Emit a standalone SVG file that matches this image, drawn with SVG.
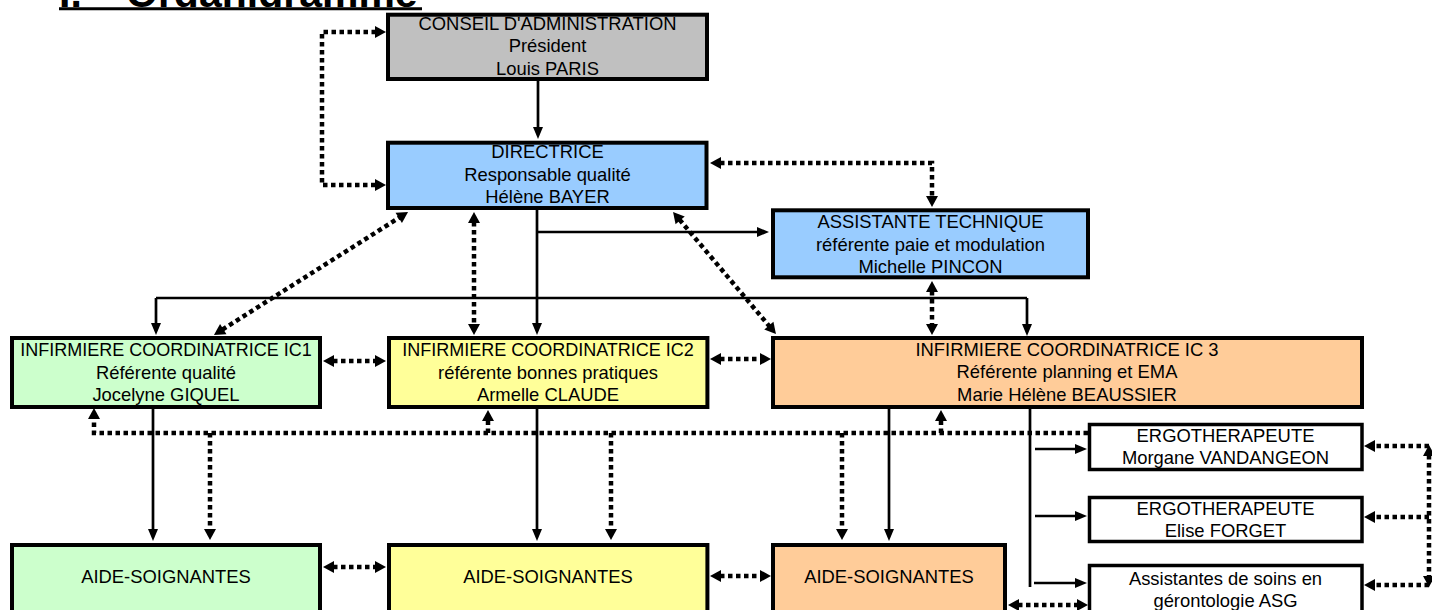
<svg xmlns="http://www.w3.org/2000/svg" width="1432" height="610" viewBox="0 0 1432 610">
<style>
.box{stroke:#000;stroke-width:4}
.thin{stroke:#000;stroke-width:3.5;fill:#fff}
.t{font-family:"Liberation Sans",Arial,sans-serif;font-size:18.4px;text-anchor:middle;fill:#000}
.n{font-size:18px}
.s{fill:none;stroke:#000;stroke-width:2.7}
.d{fill:none;stroke:#000;stroke-width:4.5;stroke-dasharray:4.5 3.5}
.title{font-family:"Liberation Sans",Arial,sans-serif;font-size:41px;font-weight:bold;fill:#000}
</style>
<defs>
<marker id="as" markerUnits="userSpaceOnUse" markerWidth="16" markerHeight="16" refX="0" refY="5" orient="auto-start-reverse" overflow="visible"><path d="M-1,0 L11,5 L-1,10 z" fill="#000"/></marker>
<marker id="ad" markerUnits="userSpaceOnUse" markerWidth="16" markerHeight="16" refX="0" refY="6" orient="auto-start-reverse" overflow="visible"><path d="M-1,0 L10,6 L-1,12 z" fill="#000"/></marker>
<clipPath id="tc"><rect x="0" y="0" width="1432" height="7"/></clipPath>
</defs>

<g id="title">
<text class="title" y="6.5" clip-path="url(#tc)"><tspan x="59">I.</tspan><tspan x="126">Organigramme</tspan></text>
<line x1="59" y1="8.7" x2="422" y2="8.7" stroke="#000" stroke-width="3"/>
</g>

<g id="connectors">
<path class="s" d="M538,81 V128" marker-end="url(#as)"/>
<path class="s" d="M537,210 V324" marker-end="url(#as)"/>
<path class="s" d="M537,232 H758" marker-end="url(#as)"/>
<path class="s" d="M156,298 H1027"/>
<path class="s" d="M156,298 V324" marker-end="url(#as)"/>
<path class="s" d="M1027,298 V325" marker-end="url(#as)"/>
<path class="s" d="M153,407 V530" marker-end="url(#as)"/>
<path class="s" d="M537,407 V530" marker-end="url(#as)"/>
<path class="s" d="M889,407 V530" marker-end="url(#as)"/>
<path class="s" d="M1030,407 V587"/>
<path class="s" d="M1035,449 H1076" marker-end="url(#as)"/>
<path class="s" d="M1035,516 H1076" marker-end="url(#as)"/>
<path class="s" d="M1034,583 H1076" marker-end="url(#as)"/>
<path class="d" d="M376,32 H322 V185 H376" marker-start="url(#ad)" marker-end="url(#ad)"/>
<path class="d" d="M720,163 H932 V197" marker-start="url(#ad)" marker-end="url(#ad)"/>
<path class="d" d="M222.4,329.6 L399.6,217.4" marker-start="url(#ad)" marker-end="url(#ad)"/>
<path class="d" d="M474,222 V325" marker-start="url(#ad)" marker-end="url(#ad)"/>
<path class="d" d="M679.5,219.6 L769.5,326.4" marker-start="url(#ad)" marker-end="url(#ad)"/>
<path class="d" d="M932,291 V325" marker-start="url(#ad)" marker-end="url(#ad)"/>
<path class="d" d="M333,361 H376" marker-start="url(#ad)" marker-end="url(#ad)"/>
<path class="d" d="M720,359 H761" marker-start="url(#ad)" marker-end="url(#ad)"/>
<path class="d" d="M1088,433 H94 V418" marker-end="url(#ad)"/>
<path class="d" d="M210,433 V530" marker-end="url(#ad)"/>
<path class="d" d="M488,433 V420" marker-end="url(#ad)"/>
<path class="d" d="M611,433 V530" marker-end="url(#ad)"/>
<path class="d" d="M842,433 V530" marker-end="url(#ad)"/>
<path class="d" d="M941,433 V420" marker-end="url(#ad)"/>
<path class="d" d="M333,567 H376" marker-start="url(#ad)" marker-end="url(#ad)"/>
<path class="d" d="M720,576 H761" marker-start="url(#ad)" marker-end="url(#ad)"/>
<path class="d" d="M1018,605 H1078" marker-start="url(#ad)" marker-end="url(#ad)"/>
<path class="d" d="M1429,455 V577" marker-start="url(#ad)" marker-end="url(#ad)"/>
<path class="d" d="M1429,446 H1374" marker-end="url(#ad)"/>
<path class="d" d="M1429,517 H1374" marker-end="url(#ad)"/>
<path class="d" d="M1429,585 H1374" marker-end="url(#ad)"/>
</g>

<g id="conseil">
<rect class="box" x="388" y="14.7" width="319" height="64.3" fill="#C0C0C0"/>
<text class="t" x="547.5" y="29.5">CONSEIL D'ADMINISTRATION</text>
<text class="t" x="547.5" y="52.2">Président</text>
<text class="t" x="547.5" y="75">Louis PARIS</text>
</g>

<g id="directrice">
<rect class="box" x="388" y="142.7" width="318.5" height="65.3" fill="#99CCFF"/>
<text class="t" x="547.5" y="158.3">DIRECTRICE</text>
<text class="t" x="547.5" y="181">Responsable qualité</text>
<text class="t" x="547.5" y="203.3">Hélène BAYER</text>
</g>

<g id="assistante">
<rect class="box" x="773" y="210.3" width="315" height="67" fill="#99CCFF"/>
<text class="t" x="930.5" y="228.3">ASSISTANTE TECHNIQUE</text>
<text class="t" x="930.5" y="250.6">référente paie et modulation</text>
<text class="t" x="930.5" y="272.6">Michelle PINCON</text>
</g>

<g id="ic1">
<rect class="box" x="12" y="338" width="308" height="69" fill="#CCFFCC"/>
<text class="t n" x="166" y="355.6">INFIRMIERE COORDINATRICE IC1</text>
<text class="t" x="166" y="378.9">Référente qualité</text>
<text class="t" x="166" y="400.6">Jocelyne GIQUEL</text>
</g>

<g id="ic2">
<rect class="box" x="389" y="338" width="318.4" height="69" fill="#FFFF99"/>
<text class="t n" x="548" y="355.6">INFIRMIERE COORDINATRICE IC2</text>
<text class="t" x="548" y="378.9">référente bonnes pratiques</text>
<text class="t" x="548" y="400.6">Armelle CLAUDE</text>
</g>

<g id="ic3">
<rect class="box" x="773" y="338" width="589" height="69" fill="#FFCC99"/>
<text class="t" x="1067" y="355.9">INFIRMIERE COORDINATRICE IC 3</text>
<text class="t" x="1067" y="378.3">Référente planning et EMA</text>
<text class="t" x="1067" y="400.6">Marie Hélène BEAUSSIER</text>
</g>

<g id="ergo1">
<rect class="thin" x="1089.5" y="424.5" width="272.5" height="45"/>
<text class="t" x="1225.5" y="441.6">ERGOTHERAPEUTE</text>
<text class="t" x="1225.5" y="463.9">Morgane VANDANGEON</text>
</g>

<g id="ergo2">
<rect class="thin" x="1089.5" y="497.5" width="272.5" height="44"/>
<text class="t" x="1225.5" y="514.9">ERGOTHERAPEUTE</text>
<text class="t" x="1225.5" y="536.6">Elise FORGET</text>
</g>

<g id="asg">
<rect class="thin" x="1089.5" y="565.5" width="272.5" height="80"/>
<text class="t" x="1225.5" y="584.9">Assistantes de soins en</text>
<text class="t" x="1225.5" y="606.6">gérontologie ASG</text>
</g>

<g id="aide1">
<rect class="box" x="12" y="545" width="308" height="100" fill="#CCFFCC"/>
<text class="t" x="166" y="583.3">AIDE-SOIGNANTES</text>
</g>

<g id="aide2">
<rect class="box" x="389" y="545" width="318.4" height="100" fill="#FFFF99"/>
<text class="t" x="548" y="582.6">AIDE-SOIGNANTES</text>
</g>

<g id="aide3">
<rect class="box" x="773" y="545" width="232" height="100" fill="#FFCC99"/>
<text class="t" x="889" y="583.3">AIDE-SOIGNANTES</text>
</g>
</svg>
